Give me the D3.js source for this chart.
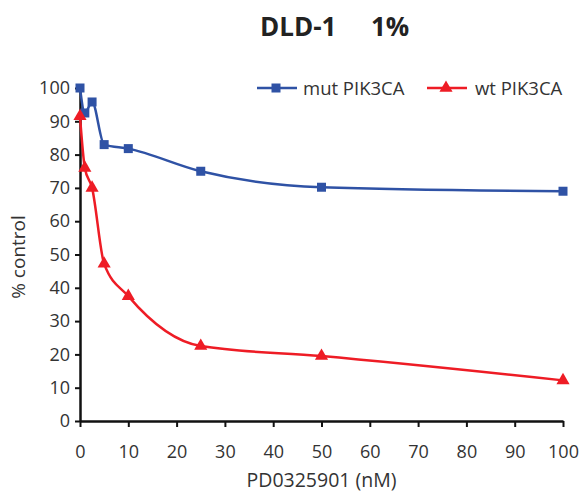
<!DOCTYPE html>
<html>
<head>
<meta charset="utf-8">
<script src="https://cdn.jsdelivr.net/npm/d3@7"></script>
<style>
  body { margin: 0; background: #fff; }
  text { font-family: "Open Sans", "DejaVu Sans", sans-serif; }
</style>
</head>
<body>
<svg id="chart" width="587" height="493"></svg>
<script>
// concentrations (nM)
var doses = [0, 1, 2.5, 5, 10, 25, 50, 100];
// % control
var mutValues = [100, 92.5, 95.8, 83, 81.8, 75, 70.2, 69];
var wtValues = [91.5, 76, 70, 47.2, 37.5, 22.5, 19.5, 12.2];

var xTicks = [0, 10, 20, 30, 40, 50, 60, 70, 80, 90, 100];
var yTicks = [0, 10, 20, 30, 40, 50, 60, 70, 80, 90, 100];

var series = [
    {name: 'mut PIK3CA', values: mutValues, color: '#2f52a5', marker: 'square'},
    {name: 'wt PIK3CA', values: wtValues, color: '#ee1c25', marker: 'triangle'}
];

var svg = d3.select('#chart');

var margin = {left: 80, right: 24, top: 88, bottom: 72};
var width = 587 - margin.left - margin.right;
var height = 493 - margin.top - margin.bottom;

var x = d3.scaleLinear().domain([0, 100]).range([0, width]);
var y = d3.scaleLinear().domain([0, 100]).range([height, 0]);

var g = svg.append('g').attr('transform', 'translate(' + margin.left + ',' + margin.top + ')');

// axes
var xAxis = g.append('g')
    .attr('transform', 'translate(0,' + height + ')')
    .call(d3.axisBottom(x).tickValues(xTicks).tickSize(6).tickPadding(18).tickSizeOuter(0));
var yAxis = g.append('g')
    .call(d3.axisLeft(y).tickValues(yTicks).tickSize(5).tickPadding(5).tickSizeOuter(0));

[xAxis, yAxis].forEach(function (ax) {
    ax.select('.domain').attr('stroke', '#111').attr('stroke-width', 2.5);
    ax.selectAll('.tick line').attr('stroke', '#111').attr('stroke-width', 2);
    ax.selectAll('.tick text').attr('fill', '#333').style('font-size', '18px');
});

// axis titles
svg.append('text')
    .attr('x', margin.left + width / 2)
    .attr('y', 487)
    .attr('text-anchor', 'middle')
    .attr('fill', '#333')
    .style('font-size', '19.5px')
    .text('PD0325901 (nM)');

svg.append('text')
    .attr('transform', 'translate(25,257) rotate(-90)')
    .attr('text-anchor', 'middle')
    .attr('fill', '#333')
    .style('font-size', '19px')
    .text('% control');

// title
var titleParts = ['DLD-1', '1%'];
var titleX = [260, 371];
titleParts.forEach(function (t, i) {
    svg.append('text')
        .attr('x', titleX[i])
        .attr('y', 36)
        .attr('fill', '#222')
        .style('font-size', '26px')
        .style('font-weight', 'bold')
        .text(t);
});

var line = d3.line()
    .x(function (d, i) { return x(doses[i]); })
    .y(function (d) { return y(d); })
    .curve(d3.curveMonotoneX);

function drawMarker(sel, type, color) {
    if (type === 'square') {
        sel.append('rect')
            .attr('x', -4.5).attr('y', -4.5)
            .attr('width', 9).attr('height', 9)
            .attr('fill', color);
    } else {
        sel.append('path')
            .attr('d', d3.symbol().type(d3.symbolTriangle).size(75)())
            .attr('fill', color);
    }
}

series.forEach(function (s) {
    g.append('path')
        .datum(s.values)
        .attr('fill', 'none')
        .attr('stroke', s.color)
        .attr('stroke-width', 2.5)
        .attr('d', line);

    g.selectAll('.m-' + s.marker)
        .data(s.values)
        .enter().append('g')
        .attr('class', 'm-' + s.marker)
        .attr('transform', function (d, i) {
            return 'translate(' + x(doses[i]) + ',' + y(d) + ')';
        })
        .each(function () { drawMarker(d3.select(this), s.marker, s.color); });
});

// legend
var legendX = [257, 427];
var legendTextX = [46, 48];
series.forEach(function (s, i) {
    var lg = svg.append('g').attr('transform', 'translate(' + legendX[i] + ',88)');
    lg.append('line')
        .attr('x1', 0).attr('x2', 40)
        .attr('stroke', s.color).attr('stroke-width', 2.5);
    var mk = lg.append('g').attr('transform', 'translate(19,0)');
    drawMarker(mk, s.marker, s.color);
    lg.append('text')
        .attr('x', legendTextX[i])
        .attr('y', 6.5)
        .attr('fill', '#333')
        .style('font-size', '18.5px')
        .text(s.name);
});
</script>
</body>
</html>
